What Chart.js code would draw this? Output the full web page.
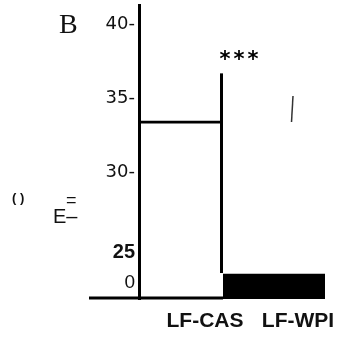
<!DOCTYPE html>
<html>
<head>
<meta charset="utf-8">
<script src="https://cdn.jsdelivr.net/npm/chart.js@4/dist/chart.umd.min.js"></script>
<style>
html,body{margin:0;background:#fff}
#wrap{width:338px;height:337px}
</style>
</head>
<body>
<div id="wrap"><canvas id="c"></canvas></div>
<script>
// data
const categories = ['LF-CAS', 'LF-WPI'];
const barValues = [33.5, 23.14];
const sigTop = [36.7, null];
const sigText = '***';
const yTickValues = [22.53, 24.59, 30, 35, 40];
const yTickLabels = ['0', '25', '30-', '35-', '40-'];

// extra drawing: baseline, significance line, stars, stray label bits
const marks = {
  id: 'marks',
  afterDatasetsDraw(chart){
    const {ctx, chartArea, scales:{y}} = chart;
    const b1 = chart.getDatasetMeta(0).data[0];
    const b2 = chart.getDatasetMeta(1).data[0];
    ctx.save();
    ctx.strokeStyle = '#000';
    ctx.fillStyle = '#000';
    ctx.lineWidth = 3;
    // baseline
    ctx.beginPath();
    ctx.moveTo(chartArea.left - 50, chartArea.bottom - 1);
    ctx.lineTo(b2.x - b2.width/2, chartArea.bottom - 1);
    ctx.stroke();
    // significance line on the right edge of the first bar
    const sx = b1.x + b1.width/2 - 1.5;
    const topY = y.getPixelForValue(sigTop[0]);
    ctx.beginPath();
    ctx.moveTo(sx, topY);
    ctx.lineTo(sx, b2.y - 1);
    ctx.stroke();
    // stars
    ctx.font = 'bold 21px "DejaVu Sans"';
    ctx.letterSpacing = '3px';
    ctx.textAlign = 'left';
    ctx.textBaseline = 'alphabetic';
    ctx.fillText(sigText, sx - 2, topY - 7);
    ctx.letterSpacing = '0px';
    // stray mark
    ctx.strokeStyle = '#333';
    ctx.lineWidth = 1.5;
    ctx.beginPath();
    ctx.moveTo(291.5, 122);
    ctx.lineTo(293, 96);
    ctx.stroke();
    // panel letter and broken axis title
    ctx.fillStyle = '#111';
    ctx.font = '28px "Liberation Serif"';
    ctx.fillText('B', 59, 33);
    ctx.font = 'bold 13px "Liberation Sans"';
    ctx.fillText('( )', 12, 202);
    ctx.font = '18px "Liberation Sans"';
    ctx.fillText('=', 66, 206);
    ctx.font = '20px "Liberation Sans"';
    ctx.fillText('E–', 53, 223);
    ctx.restore();
  }
};

new Chart(document.getElementById('c'), {
  type: 'bar',
  data: {
    datasets: [
      { data: [{x:0, y:barValues[0]}], backgroundColor:'#fff', borderColor:'#000',
        borderWidth:{top:3, left:0, right:0, bottom:0}, borderSkipped:false, barThickness:84 },
      { data: [{x:1, y:barValues[1]}], backgroundColor:'#000', borderWidth:0, barThickness:102 }
    ]
  },
  options: {
    responsive: true,
    maintainAspectRatio: false,
    animation: false,
    layout: { padding:{ top:5, right:13, left:0, bottom:0 } },
    plugins: { legend:{display:false}, tooltip:{enabled:false} },
    datasets: { bar:{ grouped:false } },
    scales: {
      x: {
        type: 'linear',
        offset: false,
        min: -0.4516, max: 1.548,
        grid: { display:false, drawTicks:false },
        border: { display:false },
        afterBuildTicks: s => { s.ticks = categories.map((c,i)=>({value:i})); },
        afterFit: s => { s.height = 38; s.paddingLeft = 0; s.paddingRight = 0; },
        ticks: {
          callback: v => categories[v],
          labelOffset: 24,
          padding: 10,
          autoSkip: false,
          maxRotation: 0,
          color: '#111',
          font: { family:'Liberation Sans', size:21, weight:'bold' }
        }
      },
      y: {
        min: 21.45, max: 41.32,
        grid: { display:false, drawTicks:false },
        border: { display:true, color:'#000', width:3, z:1 },
        afterBuildTicks: s => { s.ticks = yTickValues.map(v=>({value:v})); },
        afterFit: s => { s.width = 139; s.paddingTop = 0; s.paddingBottom = 0; },
        ticks: {
          callback: (v,i) => yTickLabels[i],
          autoSkip: false,
          padding: 4,
          color: '#111',
          font: ctx => ctx.index === 1 ? {family:'Liberation Sans', size:20, weight:'bold'}
                    : ctx.index === 0 ? {family:'Liberation Sans', size:19}
                    : {family:'DejaVu Sans', size:18}
        }
      }
    }
  },
  plugins: [marks]
});
</script>
</body>
</html>
